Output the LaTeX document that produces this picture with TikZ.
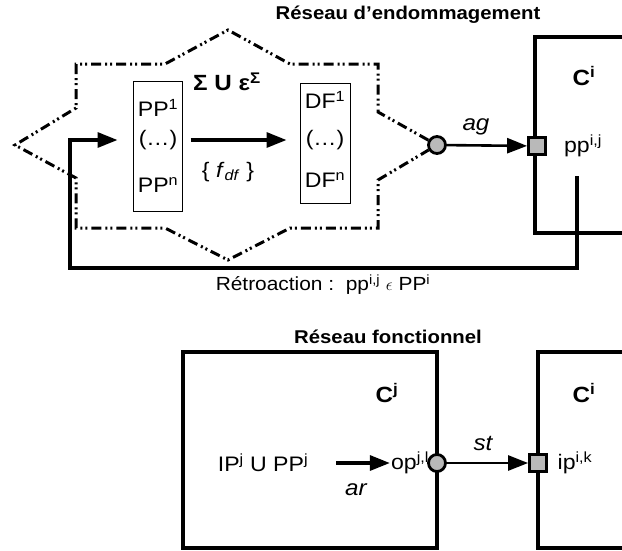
\documentclass[tikz,border=0pt]{standalone}
\usepackage{fontspec}
\setmainfont{Liberation Sans}[FakeStretch=1.1]
\usetikzlibrary{arrows.meta,positioning}

\tikzset{
  thickline/.style={line width=3.2pt},
  arr/.style={thickline,-{Triangle[length=20pt,width=15pt]}},
  damage/.style={line width=3pt,dash pattern=on 10pt off 4pt on 2pt off 3pt on 2pt off 4pt},
  setbox/.style={draw,line width=1pt,minimum width=49pt},
  compbox/.style={draw,line width=3.2pt,minimum height=196pt},
  outport/.style={circle,draw,line width=2.8pt,fill=gray!55,minimum size=17pt,inner sep=0pt},
  inport/.style={draw,line width=2.8pt,fill=gray!55,minimum size=17pt,inner sep=0pt},
  lbl/.style={font=\fontsize{21}{24}\selectfont,inner sep=1pt},
  ital/.style={font=\fontsize{22}{24}\selectfont\itshape,inner sep=1pt},
  small/.style={font=\fontsize{19}{22}\selectfont,inner sep=1pt},
  ttl/.style={font=\fontsize{18.5}{22}\selectfont\bfseries,inner sep=1pt},
  cname/.style={font=\fontsize{22}{24}\selectfont\bfseries,inner sep=1pt},
}

\begin{document}
\begin{tikzpicture}[x=1pt,y=-1pt]
  \useasboundingbox (0,0) rectangle (622,550);
  % Damage network
  \node[ttl] (titledmg) at (408,15) {Réseau d'endommagement};
  \node[outport] (circ1) at (437,145) {};
  \draw[damage] (circ1) -- (378,112) -- (378,64) -- (290,64) -- (228,30) -- (165,64)
    -- (76,64) -- (76,108) -- (15,145) -- (76,178) -- (76,228) -- (165,228) -- (228,260)
    -- (290,228) -- (378,228) -- (378,180) -- (circ1);
  \node[setbox,minimum height=130pt] (ppbox) at (157.5,146) {};
  \node[lbl] (ppone) at (158,108) {PP\textsuperscript{1}};
  \node[lbl] (ppdots) at (158,140) {(…)};
  \node[lbl] (ppn) at (158,185) {PP\textsuperscript{n}};
  \node[setbox,minimum width=50pt,minimum height=120pt] (dfbox) at (325,143) {};
  \node[lbl] (dfone) at (325,100) {DF\textsuperscript{1}};
  \node[lbl] (dfdots) at (325,140) {(…)};
  \node[lbl] (dfn) at (325,180) {DF\textsuperscript{n}};
  \node[cname] (sigma) at (227,82) {Σ U ε\textsuperscript{Σ}};
  \draw[arr,shorten <=8pt,shorten >=13pt] (ppdots.east -| ppbox.east) -- (ppdots.east -| dfbox.west);
  \node[lbl] (fdf) at (228,172) {\{ \textit{f}\textsubscript{\textit{df}} \}};
  % Component C^i (damage side)
  \node[compbox,minimum width=105pt] (ciup) at (587.5,135) {};
  \node[cname] (ciuplbl) at (584,76) {C\textsuperscript{i}};
  \node[lbl] (ppij) at (583,146) {pp\textsuperscript{i,j}};
  \node[inport] (sq1) at (537,146) {};
  \draw[arr,line width=2.6pt] (circ1) -- (sq1);
  \node[ital] (ag) at (476,127) {ag};
  % Feedback
  \coordinate (fbturn) at (70,268);
  \draw[arr,shorten >=15pt] ([yshift=-18pt]ppij.south -| 577,0) |- (fbturn) |- (ppdots.west -| ppbox.west);
  \node[small] (retro) at (323,285) {Rétroaction :\ \ pp\textsuperscript{i,j} $\epsilon$ PP\textsuperscript{i}};
  % Functional network
  \node[ttl] (titlefct) at (388,337) {Réseau fonctionnel};
  \node[compbox,minimum width=254pt] (cj) at (310,450) {};
  \node[cname] (cjlbl) at (387,393) {C\textsuperscript{j}};
  \node[lbl] (ipu) at (263,463) {IP\textsuperscript{j} U PP\textsuperscript{j}};
  \node[lbl] (opjl) at (410,463) {op\textsuperscript{j,l}};
  \draw[arr,shorten <=27pt] (ipu.east) -- (opjl.west);
  \node[ital] (ar) at (356,490) {ar};
  \node[compbox,minimum width=102pt] (cilow) at (589,450) {};
  \node[cname] (cilowlbl) at (584,393) {C\textsuperscript{i}};
  \node[lbl] (ipik) at (575,463) {ip\textsuperscript{i,k}};
  \node[outport] (circ2) at (437,463) {};
  \node[inport] (sq2) at (538,463) {};
  \draw[arr,line width=2.6pt] (circ2) -- (sq2);
  \node[ital] (st) at (483,443) {st};
\end{tikzpicture}
\end{document}
